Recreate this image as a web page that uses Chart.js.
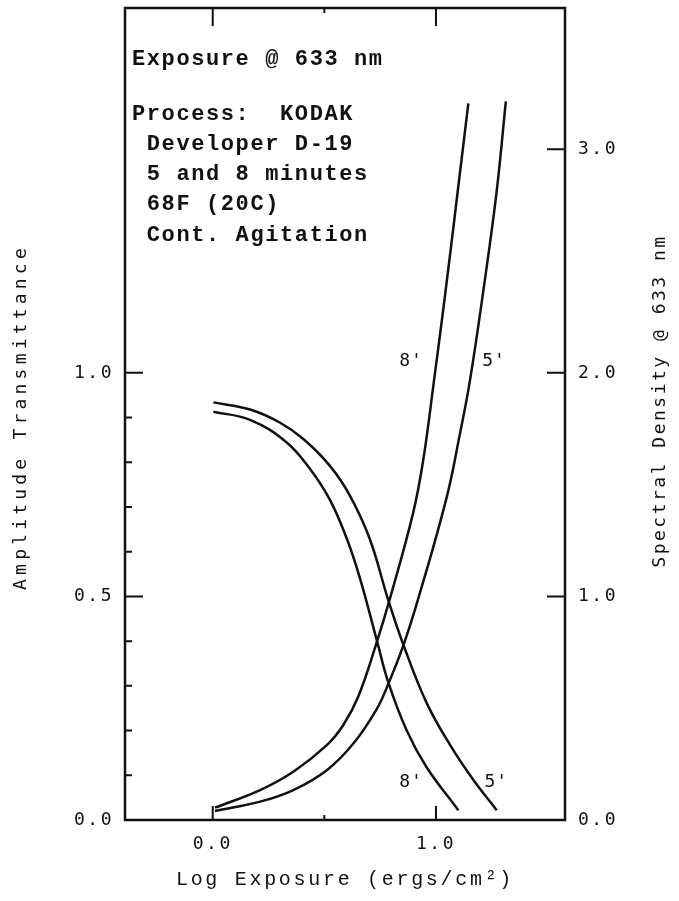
<!DOCTYPE html>
<html>
<head>
<meta charset="utf-8">
<script src="https://cdn.jsdelivr.net/npm/chart.js@4.4.1/dist/chart.umd.min.js"></script>
<style>
  html, body { margin: 0; padding: 0; background: #fff; }
  #wrap { width: 679px; height: 901px; }
</style>
</head>
<body>
<div id="wrap"><canvas id="grafica"></canvas></div>
<script>
// Log exposure (x) and amplitude transmittance for 8 and 5 minute development
const EXP_T8 = [0.003, 0.167, 0.33, 0.436, 0.525, 0.600, 0.660, 0.736, 0.785, 0.869, 0.958, 1.100];
const TRANS_8 = [0.913, 0.895, 0.845, 0.785, 0.716, 0.630, 0.540, 0.400, 0.310, 0.200, 0.118, 0.022];
const EXP_T5 = [0.003, 0.167, 0.30, 0.406, 0.525, 0.615, 0.704, 0.785, 0.854, 0.958, 1.063, 1.167, 1.272];
const TRANS_5 = [0.934, 0.918, 0.889, 0.852, 0.792, 0.725, 0.628, 0.494, 0.392, 0.262, 0.168, 0.090, 0.022];

// Log exposure and spectral density @ 633 nm
const EXP_D8 = [0.01, 0.212, 0.361, 0.511, 0.585, 0.652, 0.736, 0.794, 0.898, 0.943, 0.991, 1.043, 1.096, 1.145];
const DENS_8 = [0.055, 0.134, 0.216, 0.335, 0.425, 0.552, 0.799, 0.991, 1.375, 1.610, 1.964, 2.366, 2.800, 3.205];
const EXP_D5 = [0.01, 0.212, 0.361, 0.511, 0.630, 0.734, 0.785, 0.854, 0.921, 1.048, 1.107, 1.152, 1.212, 1.272, 1.313];
const DENS_5 = [0.040, 0.082, 0.134, 0.223, 0.342, 0.495, 0.605, 0.781, 0.991, 1.443, 1.726, 1.964, 2.366, 2.813, 3.214];

// tick labels
const X_TICKS = [0, 1];
const X_MINOR = [0.5];
const T_TICKS = [0, 0.5, 1.0];
const T_MINOR = [0.1, 0.2, 0.3, 0.4, 0.6, 0.7, 0.8, 0.9];
const D_TICKS = [0, 1, 2, 3];

const NOTE_LINES = ['Exposure @ 633 nm', 'Process:  KODAK', ' Developer D-19', ' 5 and 8 minutes', ' 68F (20C)', ' Cont. Agitation'];
const CURVE_LABELS = [
    { text: "8'", x: 0.888, t: 1.025 },
    { text: "5'", x: 1.26, t: 1.025 },
    { text: "8'", x: 0.888, t: 0.085 },
    { text: "5'", x: 1.27, t: 0.085 }
];

const INK = '#111';
const MONO = '"DejaVu Sans Mono", monospace';
const TYPE = '"Liberation Mono", monospace';

const zip = (xs, ys) => xs.map((x, i) => ({ x: x, y: ys[i] }));

function curva(label, data, axis) {
    return {
        label: label,
        data: data,
        yAxisID: axis,
        showLine: true,
        borderColor: INK,
        borderWidth: 2.5,
        pointRadius: 0,
        tension: 0.4,
        fill: false
    };
}

const marcoPlugin = {
    id: 'marco',
    beforeDraw(chart) {
        chart.ctx.letterSpacing = '2.5px';
    },
    afterDraw(chart) {
        const { ctx, chartArea: a, scales } = chart;
        const sx = scales.x, sy = scales.y, sd = scales.y2;
        ctx.save();
        ctx.strokeStyle = INK;
        ctx.lineWidth = 2.5;
        ctx.strokeRect(a.left, a.top, a.right - a.left, a.bottom - a.top);

        // inward tick marks
        ctx.beginPath();
        X_TICKS.forEach(v => {
            const px = sx.getPixelForValue(v);
            ctx.moveTo(px, a.bottom); ctx.lineTo(px, a.bottom - 14);
            ctx.moveTo(px, a.top); ctx.lineTo(px, a.top + 18);
        });
        X_MINOR.forEach(v => {
            const px = sx.getPixelForValue(v);
            ctx.moveTo(px, a.bottom); ctx.lineTo(px, a.bottom - 5);
            ctx.moveTo(px, a.top); ctx.lineTo(px, a.top + 5);
        });
        T_TICKS.filter(v => v > 0).forEach(v => {
            const py = sy.getPixelForValue(v);
            ctx.moveTo(a.left, py); ctx.lineTo(a.left + 18, py);
        });
        T_MINOR.forEach(v => {
            const py = sy.getPixelForValue(v);
            ctx.moveTo(a.left, py); ctx.lineTo(a.left + 7, py);
        });
        D_TICKS.filter(v => v > 0).forEach(v => {
            const py = sd.getPixelForValue(v);
            ctx.moveTo(a.right, py); ctx.lineTo(a.right - 18, py);
        });
        ctx.lineWidth = 2;
        ctx.stroke();

        ctx.fillStyle = INK;

        // notes block
        ctx.font = 'bold 22px ' + TYPE;
        ctx.letterSpacing = '1.6px';
        ctx.textAlign = 'left';
        ctx.textBaseline = 'alphabetic';
        const baselines = [65, 120, 150, 180, 210, 241];
        NOTE_LINES.forEach((line, i) => ctx.fillText(line, 132, baselines[i]));

        // curve labels
        ctx.font = '18px ' + MONO;
        ctx.letterSpacing = '1px';
        ctx.textAlign = 'center';
        ctx.textBaseline = 'middle';
        CURVE_LABELS.forEach(l => {
            ctx.fillText(l.text, sx.getPixelForValue(l.x), sy.getPixelForValue(l.t));
        });

        // axis titles
        ctx.save();
        ctx.font = '18px ' + MONO;
        ctx.letterSpacing = '4.2px';
        ctx.translate(21, 417);
        ctx.rotate(-Math.PI / 2);
        ctx.fillText('Amplitude Transmittance', 0, 0);
        ctx.restore();

        ctx.save();
        ctx.font = '18px ' + MONO;
        ctx.letterSpacing = '2.5px';
        ctx.translate(660, 401);
        ctx.rotate(-Math.PI / 2);
        ctx.fillText('Spectral Density @ 633 nm', 0, 0);
        ctx.restore();

        ctx.font = '20px ' + TYPE;
        ctx.letterSpacing = '2.7px';
        ctx.fillText('Log Exposure (ergs/cm²)', (a.left + a.right) / 2, 880);

        ctx.restore();
    }
};

const fmt = v => Number(v).toFixed(1);
const tickFont = { family: MONO, size: 18 };
const noPad = s => { s.paddingTop = 0; s.paddingBottom = 0; };

new Chart(document.getElementById('grafica'), {
    type: 'scatter',
    data: {
        datasets: [
            curva("8' transmittance", zip(EXP_T8, TRANS_8), 'y'),
            curva("5' transmittance", zip(EXP_T5, TRANS_5), 'y'),
            curva("8' density", zip(EXP_D8, DENS_8), 'y2'),
            curva("5' density", zip(EXP_D5, DENS_5), 'y2')
        ]
    },
    options: {
        responsive: true,
        maintainAspectRatio: false,
        animation: false,
        layout: { padding: { top: 8, left: 0, right: 0, bottom: 0 } },
        plugins: { legend: { display: false }, tooltip: { enabled: false } },
        scales: {
            x: {
                type: 'linear',
                position: 'bottom',
                min: -0.393,
                max: 1.578,
                grid: { display: false, drawTicks: false },
                border: { display: false },
                afterBuildTicks: s => { s.ticks = X_TICKS.map(v => ({ value: v })); },
                afterFit: s => { s.height = 81; s.paddingLeft = 0; s.paddingRight = 0; },
                ticks: { color: INK, font: tickFont, padding: 14, callback: fmt, maxRotation: 0 }
            },
            y: {
                position: 'left',
                min: 0,
                max: 1.816,
                grid: { display: false, drawTicks: false },
                border: { display: false },
                afterBuildTicks: s => { s.ticks = T_TICKS.map(v => ({ value: v })); },
                afterFit: s => { s.width = 125; noPad(s); },
                ticks: { color: INK, font: tickFont, padding: 11, callback: fmt }
            },
            y2: {
                position: 'right',
                min: 0,
                max: 3.632,
                grid: { display: false, drawTicks: false },
                border: { display: false },
                afterBuildTicks: s => { s.ticks = D_TICKS.map(v => ({ value: v })); },
                afterFit: s => { s.width = 114; noPad(s); },
                ticks: { color: INK, font: tickFont, padding: 13, callback: fmt }
            }
        }
    },
    plugins: [marcoPlugin]
});
</script>
</body>
</html>
